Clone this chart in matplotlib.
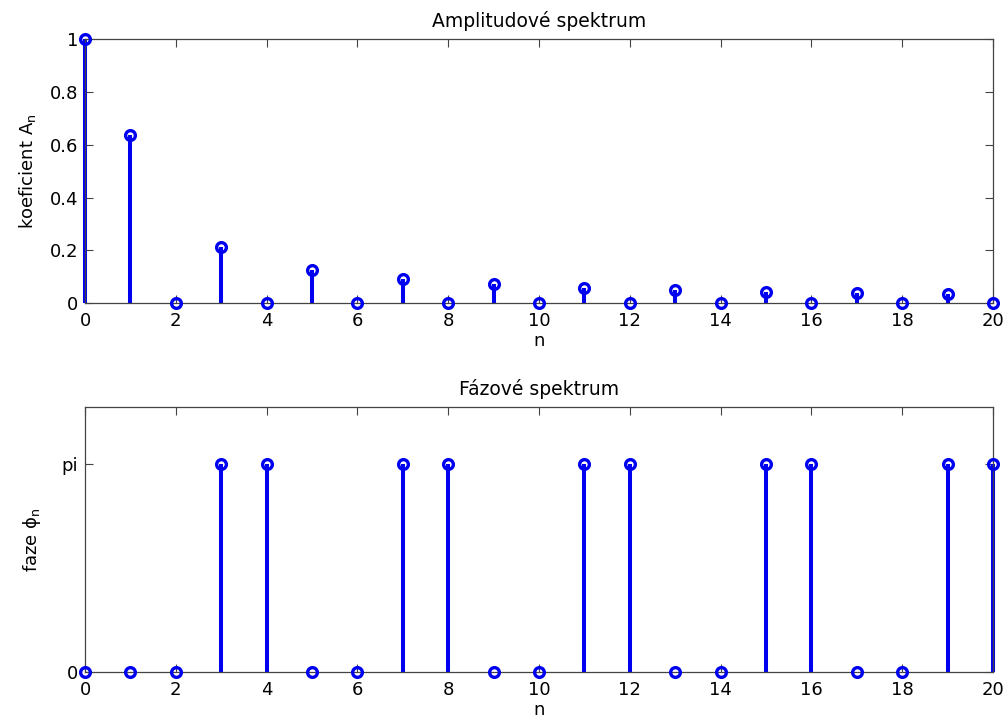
import numpy as np
import matplotlib
matplotlib.use("Agg")
import matplotlib.pyplot as plt

plt.rcParams['font.family'] = ['DejaVu Sans']
plt.rcParams['mathtext.fontset'] = 'dejavusans'

n = list(range(21))
amplitude = [1.0, 0.6366, 0.0, 0.2122, 0.0, 0.1273, 0.0, 0.0909, 0.0, 0.0707, 0.0,
             0.0579, 0.0, 0.0490, 0.0, 0.0424, 0.0, 0.0374, 0.0, 0.0335, 0.0]
phase_pi = [0, 0, 0, 1, 1, 0, 0, 1, 1, 0, 0, 1, 1, 0, 0, 1, 1, 0, 0, 1, 1]
phase = [p * np.pi for p in phase_pi]

x_ticks = list(range(0, 21, 2))
amp_yticks = [0, 0.2, 0.4, 0.6, 0.8, 1]
amp_yticklabels = ['0', '0.2', '0.4', '0.6', '0.8', '1']
phase_yticks = [0, np.pi]
phase_yticklabels = ['0', 'pi']

fig = plt.figure(figsize=(10.06, 7.2), dpi=100)
ax1 = fig.add_axes([0.0845, 0.579, 0.9026, 0.3667])
ax2 = fig.add_axes([0.0845, 0.0667, 0.9026, 0.368])

blue = '#0000f0'
spine_col = '#444444'
fs = 13
tfs = 13.5


def draw(ax, y):
    ml, sl, bl = ax.stem(n, y, basefmt=' ')
    plt.setp(sl, color=blue, linewidth=2.9)
    plt.setp(ml, marker='o', markersize=7, markerfacecolor='none',
             markeredgecolor=blue, markeredgewidth=2.4, clip_on=False, zorder=5)
    sl.set_clip_on(False)
    ax.set_xlim(0, 20)
    ax.set_xticks(x_ticks)
    ax.set_xticklabels([str(t) for t in x_ticks])
    ax.tick_params(direction='in', top=True, right=True, length=6, width=0.8,
                   color=spine_col, labelsize=fs)
    ax.tick_params(axis='x', pad=6.5)
    ax.tick_params(axis='y', pad=5)
    for s in ax.spines.values():
        s.set_color(spine_col)
        s.set_linewidth(0.9)
    ax.set_xlabel('n', fontsize=fs, labelpad=1.5)


draw(ax1, amplitude)
ax1.set_ylim(0, 1)
ax1.set_yticks(amp_yticks)
ax1.set_yticklabels(amp_yticklabels)
ax1.set_ylabel(r'koeficient $\mathregular{A_n}$', fontsize=fs, labelpad=8)
ax1.set_title('Amplitudové spektrum', fontsize=tfs, pad=8.5)

draw(ax2, phase)
ax2.set_ylim(0, 4)
ax2.set_yticks(phase_yticks)
ax2.set_yticklabels(phase_yticklabels)
ax2.set_ylabel(r'faze $\mathregular{\phi_n}$', fontsize=fs, labelpad=13)
ax2.set_title('Fázové spektrum', fontsize=tfs, pad=8.5)

fig.savefig('out.png', dpi=100)
